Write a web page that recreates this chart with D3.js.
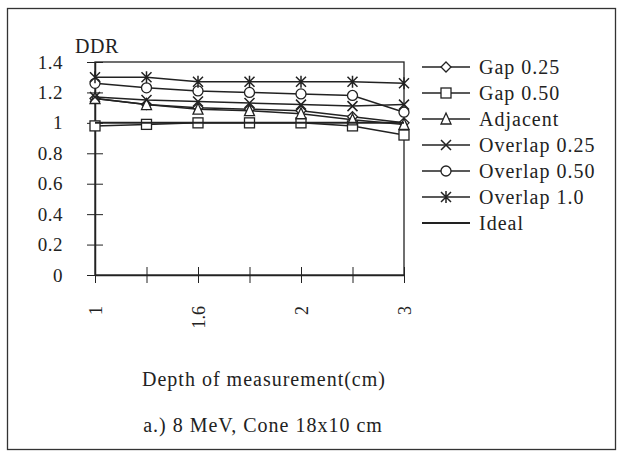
<!DOCTYPE html>
<html>
<head>
<meta charset="utf-8">
<script src="https://cdn.jsdelivr.net/npm/d3@7"></script>
<style>
  body { margin: 0; background: #fff; }
  text { font-family: "Liberation Serif", "Times New Roman", serif; fill: #222; }
</style>
</head>
<body>
<div id="chart"></div>
<script>
// depth categories (only every other one is labelled on the axis)
var depths = ["1", "1.3", "1.6", "1.8", "2", "2.5", "3"];
var tickLabels = ["1", "", "1.6", "", "2", "", "3"];
var yTicks = [0, 0.2, 0.4, 0.6, 0.8, 1, 1.2, 1.4];

var seriesNames = ["Gap 0.25", "Gap 0.50", "Adjacent", "Overlap 0.25", "Overlap 0.50", "Overlap 1.0", "Ideal"];
var markers = ["diamond", "square", "triangle", "times", "circle", "asterisk", "none"];

var gap025     = [1.16, 1.12, 1.10, 1.09, 1.08, 1.04, 1.00];
var gap050     = [0.98, 0.99, 1.00, 1.00, 1.00, 0.98, 0.92];
var adjacent   = [1.16, 1.12, 1.09, 1.08, 1.06, 1.02, 0.99];
var overlap025 = [1.17, 1.15, 1.14, 1.13, 1.12, 1.11, 1.12];
var overlap050 = [1.26, 1.23, 1.21, 1.20, 1.19, 1.18, 1.07];
var overlap10  = [1.30, 1.30, 1.27, 1.27, 1.27, 1.27, 1.26];
var ideal      = [1, 1, 1, 1, 1, 1, 1];

var allValues = [gap025, gap050, adjacent, overlap025, overlap050, overlap10, ideal];

var W = 623, H = 457;
var margin = {top: 62, left: 95, right: 219, bottom: 182};
var width = W - margin.left - margin.right,
    height = H - margin.top - margin.bottom;

var svg = d3.select("#chart").append("svg")
    .attr("width", W)
    .attr("height", H);

// outer frame
svg.append("rect")
    .attr("x", 7.5).attr("y", 8.5)
    .attr("width", 608).attr("height", 441)
    .attr("fill", "none")
    .attr("stroke", "#333")
    .attr("stroke-width", 1.3);

var g = svg.append("g")
    .attr("transform", "translate(" + margin.left + "," + margin.top + ")");

var x = d3.scalePoint().domain(depths).range([0, width]).padding(0);
var y = d3.scaleLinear().domain([0, 1.4]).range([height, 0]);

// plot box
g.append("rect")
    .attr("width", width).attr("height", height)
    .attr("fill", "none").attr("stroke", "#222").attr("stroke-width", 1.3);

// y axis (ticks crossing the axis)
var yAxis = g.append("g")
    .call(d3.axisLeft(y).tickValues(yTicks).tickSize(0).tickFormat(d3.format("")));
yAxis.select(".domain").attr("stroke", "#222").attr("stroke-width", 1.5);
yAxis.selectAll(".tick text")
    .attr("x", -32)
    .style("font-size", "19px")
    .style("letter-spacing", "0.5px");
yAxis.selectAll(".tick").append("line")
    .attr("x1", -8).attr("x2", 8).attr("stroke", "#222").attr("stroke-width", 1);

// x axis
var xAxis = g.append("g")
    .attr("transform", "translate(0," + height + ")")
    .call(d3.axisBottom(x).tickSize(0).tickFormat((d, i) => tickLabels[i]));
xAxis.select(".domain").attr("stroke", "#222").attr("stroke-width", 1.5);
xAxis.selectAll(".tick").append("line")
    .attr("y1", -8).attr("y2", 8).attr("stroke", "#222").attr("stroke-width", 1);
xAxis.selectAll(".tick text")
    .attr("transform", "rotate(-90)")
    .attr("x", -31).attr("y", 0)
    .attr("dy", "0.35em")
    .style("text-anchor", "end")
    .style("font-size", "18px");

svg.append("text")
    .attr("x", 75).attr("y", 53)
    .style("font-size", "20px")
    .style("letter-spacing", "0.5px")
    .text("DDR");

svg.append("text")
    .attr("x", 264).attr("y", 386)
    .style("text-anchor", "middle")
    .style("font-size", "20px")
    .style("letter-spacing", "1px")
    .text("Depth of measurement(cm)");

svg.append("text")
    .attr("x", 263).attr("y", 432)
    .style("text-anchor", "middle")
    .style("font-size", "20px")
    .style("letter-spacing", "1px")
    .text("a.) 8 MeV, Cone 18x10 cm");

function drawMarker(sel, type) {
  var s = 5;
  if (type == "diamond") {
    sel.append("path").attr("d", "M0," + (-s) + "L" + s + ",0L0," + s + "L" + (-s) + ",0Z")
      .attr("fill", "#fff").attr("stroke", "#222").attr("stroke-width", 1.3);
  } else if (type == "square") {
    sel.append("rect").attr("x", -s).attr("y", -s).attr("width", 2 * s).attr("height", 2 * s)
      .attr("fill", "#fff").attr("stroke", "#222").attr("stroke-width", 1.3);
  } else if (type == "triangle") {
    sel.append("path").attr("d", "M0," + (-s - 1) + "L" + s + "," + s + "L" + (-s) + "," + s + "Z")
      .attr("fill", "#fff").attr("stroke", "#222").attr("stroke-width", 1.3);
  } else if (type == "circle") {
    sel.append("circle").attr("r", s)
      .attr("fill", "#fff").attr("stroke", "#222").attr("stroke-width", 1.3);
  } else if (type == "times") {
    sel.append("path").attr("d", "M" + (-s) + "," + (-s) + "L" + s + "," + s + "M" + s + "," + (-s) + "L" + (-s) + "," + s)
      .attr("stroke", "#222").attr("stroke-width", 1.5);
  } else if (type == "asterisk") {
    sel.append("path").attr("d", "M" + (-s) + "," + (-s) + "L" + s + "," + s + "M" + s + "," + (-s) + "L" + (-s) + "," + s + "M0," + (-s - 1) + "L0," + (s + 1))
      .attr("stroke", "#222").attr("stroke-width", 1.5);
  }
}

var line = d3.line()
    .x((d, i) => x(depths[i]))
    .y(d => y(d));

seriesNames.forEach(function(name, k) {
  var vals = allValues[k];
  g.append("path")
    .datum(vals)
    .attr("d", line)
    .attr("fill", "none")
    .attr("stroke", "#222")
    .attr("stroke-width", name == "Ideal" ? 2 : 1.5);

  if (markers[k] != "none") {
    g.selectAll(".m" + k)
      .data(vals)
      .enter()
      .append("g")
      .attr("class", "m" + k)
      .attr("transform", (d, i) => "translate(" + x(depths[i]) + "," + y(d) + ")")
      .each(function() { drawMarker(d3.select(this), markers[k]); });
  }
});

// legend
var legend = svg.append("g");
seriesNames.forEach(function(name, k) {
  var ly = 67 + k * 26;
  var row = legend.append("g").attr("transform", "translate(0," + ly + ")");
  row.append("line")
    .attr("x1", 422).attr("x2", 470)
    .attr("stroke", "#222")
    .attr("stroke-width", name == "Ideal" ? 2 : 1.5);
  var m = row.append("g").attr("transform", "translate(446,0)");
  drawMarker(m, markers[k]);
  row.append("text")
    .attr("x", 479).attr("y", 0)
    .attr("dy", "0.35em")
    .style("font-size", "20px")
    .style("letter-spacing", "1px")
    .text(name);
});
</script>
</body>
</html>
